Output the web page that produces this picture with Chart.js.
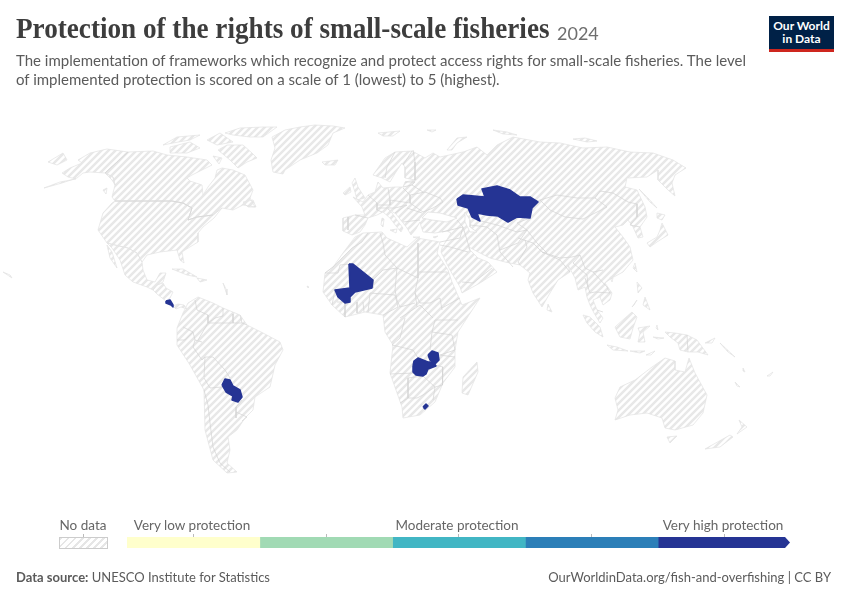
<!DOCTYPE html>
<html>
<head>
<meta charset="utf-8">
<title>Protection of the rights of small-scale fisheries</title>
<script src="https://cdn.jsdelivr.net/npm/chart.js@4/dist/chart.umd.js"></script>
<style>
  html, body { margin: 0; padding: 0; background: #fff; }
  #page { position: relative; width: 850px; height: 600px; overflow: hidden; font-family: Lato, sans-serif; color: #5b5b5b; }
  #page > * { position: absolute; }
  #mapChart { left: 0; top: 0; }
  #title { left: 16px; top: 13px; font: bold 28.5px "Liberation Serif", serif; color: #3d3d3d; white-space: nowrap; transform: scaleX(0.953); transform-origin: left top; }
  #year { left: 557px; top: 22px; font-size: 18px; color: #6e6e6e; }
  #subtitle { left: 16px; top: 51px; font-size: 15px; line-height: 19px; white-space: nowrap; }
  #logo { left: 769px; top: 16px; width: 65px; height: 30px; padding-top: 3px; background: #002147; border-bottom: 3px solid #ce261e; color: #fff; font-weight: bold; font-size: 12px; line-height: 13px; text-align: center; }
  .legendLabel { top: 517px; font-size: 13.5px; transform: translateX(-50%); white-space: nowrap; color: #666; }
  .legendTick { top: 534px; width: 1px; height: 3px; background: #bbb; }
  #noData { left: 59px; top: 537px; width: 47px; height: 10px; border: 1px solid #ccc; background: repeating-linear-gradient(135deg, #e6e6e6 0 2px, #fff 2px 5px); }
  #binChart { left: 127px; top: 537px; clip-path: polygon(0 0, 658px 0, 663px 50%, 658px 100%, 0 100%); }
  #source { left: 16px; top: 569px; font-size: 13px; }
  #credit { right: 19px; top: 569px; font-size: 13px; }
</style>
</head>
<body>
<div id="page">
  <canvas id="mapChart" width="850" height="600"></canvas>
  <div id="title">Protection of the rights of small-scale fisheries</div>
  <div id="year">2024</div>
  <div id="subtitle">The implementation of frameworks which recognize and protect access rights for small-scale fisheries. The level<br>of implemented protection is scored on a scale of 1 (lowest) to 5 (highest).</div>
  <div id="logo">Our World<br>in Data</div>
  <div class="legendLabel" style="left:83px">No data</div>
  <div class="legendLabel" style="left:192px">Very low protection</div>
  <div class="legendLabel" style="left:457px">Moderate protection</div>
  <div class="legendLabel" style="left:723px">Very high protection</div>
  <div class="legendTick" style="left:83px"></div>
  <div class="legendTick" style="left:193px"></div>
  <div class="legendTick" style="left:326px"></div>
  <div class="legendTick" style="left:458px"></div>
  <div class="legendTick" style="left:591px"></div>
  <div class="legendTick" style="left:724px"></div>
  <div id="noData"></div>
  <canvas id="binChart" width="664" height="11"></canvas>
  <div id="source"><b>Data source:</b> UNESCO Institute for Statistics</div>
  <div id="credit">OurWorldinData.org/fish-and-overfishing | CC BY</div>
</div>
<script>
// Legend bins
const binLabels = ['1', '2', '3', '4', '5'];
const binSizes = [1, 1, 1, 1, 1];
const binColors = ['#ffffcc', '#a1dab4', '#41b6c4', '#2c7fb8', '#253494'];

// Countries with a score (all "very high" in this map)
const kazakhstan = [[457,199],[463,195],[485,197],[482,189],[497,186],[510,190],[520,197],[530,197],[538,202],[532,208],[530,218],[517,217],[508,222],[498,216],[487,215],[477,213],[480,221],[472,217],[468,208],[458,205]];
const mali = [[349,264],[353,264],[373,280],[372,288],[355,292],[350,297],[350,302],[345,303],[338,297],[335,290],[350,288]];
const zambia = [[413,366],[414,361],[418,358],[428,362],[433,362],[436,366],[428,369],[426,374],[423,376],[416,375],[413,372]];
const malawiBlob = [[428,355],[432,351],[438,353],[439,360],[435,364],[430,360]];
const eswatini = [[423,407],[426,404],[428,406],[425,409]];
const paraguay = [[222,385],[225,379],[230,380],[233,386],[240,390],[242,397],[238,402],[232,400],[233,396],[226,392]];
const costaRica = [[166,301],[170,300],[173,305],[173,307],[171,305],[166,303]];
const scored = [kazakhstan, mali, zambia, malawiBlob, eswatini, paraguay, costaRica];

// Land with no data
const alaska = [[128,152],[107,149],[90,153],[78,160],[82,163],[70,168],[62,173],[68,177],[76,179],[60,182],[44,188],[62,183],[77,178],[83,173],[90,172],[105,173],[113,177],[115,185],[112,180],[105,173]];
const canada = [[128,152],[153,151],[167,155],[187,157],[207,160],[212,165],[192,175],[187,178],[190,181],[202,185],[203,195],[208,187],[215,178],[217,170],[222,168],[233,170],[245,175],[253,190],[250,198],[255,207],[243,205],[233,210],[222,208],[213,215],[197,217],[188,220],[192,208],[183,203],[172,201],[115,201],[112,197],[115,185],[113,177],[105,173]];
const usa = [[115,201],[172,201],[183,203],[192,208],[188,220],[197,217],[213,215],[222,208],[214,218],[203,227],[198,233],[198,242],[185,250],[182,252],[184,263],[180,260],[177,250],[160,252],[147,255],[142,262],[137,253],[128,248],[115,245],[107,243],[98,230],[103,213],[112,203]];
const mexico = [[107,243],[115,245],[128,248],[137,253],[142,262],[143,270],[147,280],[155,282],[160,273],[166,273],[163,282],[157,285],[153,290],[147,287],[133,282],[125,275],[120,260],[112,248]];
const baja = [[107,245],[112,252],[117,268],[110,258]];
const centralAmerica = [[153,290],[157,285],[163,283],[166,288],[173,292],[170,298],[166,301],[157,294]];
const panama = [[173,306],[178,304],[184,305],[187,309],[181,307],[176,309]];
const greenland = [[272,137],[285,130],[300,127],[315,125],[333,126],[345,128],[333,133],[328,145],[317,153],[300,160],[285,170],[283,174],[273,172],[271,160],[275,148]];
const ellesmere = [[225,133],[240,128],[263,127],[277,127],[263,137],[250,137],[233,135]];
const baffin = [[227,145],[243,145],[252,153],[257,158],[247,162],[238,168],[230,160],[218,150]];
const victoria = [[170,147],[190,142],[200,148],[187,153],[170,153]];
const banks = [[163,145],[177,137],[200,135],[190,140],[173,143]];
const devon = [[207,140],[220,133],[233,142],[217,145]];
const southampton = [[213,156],[222,158],[219,164]];
const newfoundland = [[243,202],[253,200],[256,207],[248,207]];
const vancouver = [[103,190],[107,188],[106,194]];
const stLawrence = [[48,162],[63,153],[67,160],[57,165]];
const cuba = [[172,269],[183,269],[197,277],[187,275]];
const hispaniola = [[197,278],[207,280],[200,282]];
const hawaii = [[3,272],[10,275],[12,278],[9,276]];
const southAmerica = [[177,339],[177,328],[183,313],[188,303],[198,297],[213,303],[223,308],[240,315],[247,325],[263,333],[280,342],[283,350],[275,365],[270,387],[255,397],[253,410],[245,418],[237,430],[228,437],[230,450],[227,463],[237,472],[227,473],[213,460],[205,430],[204,390],[190,365],[177,345]];
const africa = [[355,237],[343,253],[333,267],[325,273],[323,292],[332,305],[345,317],[365,312],[383,315],[385,332],[393,345],[390,373],[402,407],[403,418],[420,415],[435,402],[443,383],[455,367],[455,350],[458,332],[480,298],[462,305],[452,282],[448,270],[437,253],[440,242],[417,238],[407,247],[387,238],[382,232],[363,233]];
const madagascar = [[477,362],[478,372],[468,395],[462,393],[463,377]];
const eurasia = [[343,218],[343,231],[352,235],[360,232],[365,225],[368,218],[377,215],[383,212],[390,218],[396,226],[401,232],[403,228],[397,220],[392,213],[388,209],[396,214],[407,228],[411,235],[416,229],[420,222],[421,226],[423,232],[435,233],[447,231],[451,233],[446,241],[442,248],[441,252],[450,270],[460,287],[462,293],[480,283],[497,272],[488,262],[478,258],[470,250],[467,246],[480,253],[490,258],[505,262],[520,265],[530,273],[528,280],[533,293],[542,307],[550,293],[558,280],[570,272],[568,265],[575,278],[578,290],[585,287],[587,297],[590,305],[594,313],[600,323],[603,318],[597,310],[593,300],[600,297],[603,305],[610,300],[612,293],[605,283],[612,278],[623,272],[633,260],[630,247],[623,237],[615,227],[623,225],[628,220],[633,227],[638,238],[643,237],[640,227],[647,217],[645,207],[637,190],[625,187],[627,178],[647,177],[658,170],[658,180],[668,190],[675,196],[672,183],[675,175],[686,168],[673,160],[653,153],[630,152],[607,147],[583,148],[560,143],[540,142],[513,137],[497,145],[487,155],[477,147],[463,152],[440,157],[433,153],[425,158],[412,151],[395,152],[385,158],[373,175],[382,178],[390,182],[396,172],[402,163],[405,167],[405,178],[415,180],[405,182],[403,187],[395,187],[383,188],[378,182],[375,192],[368,195],[363,202],[353,197],[362,207],[365,215],[355,215]];
const britain = [[355,178],[358,187],[365,198],[357,200],[355,192],[352,183]];
const ireland = [[343,193],[350,187],[351,192],[345,195]];
const iceland = [[322,162],[338,160],[335,165],[325,165]];
const svalbard = [[378,133],[400,131],[393,136],[383,136]];
const novayaZemlya = [[447,150],[457,138],[467,137],[457,143],[452,150]];
const franzJosef = [[427,130],[436,130],[432,132]];
const severnaya = [[493,130],[507,132],[517,135],[503,134]];
const newSiberian = [[573,139],[585,138],[597,141],[587,142]];
const sakhalin = [[639,189],[648,198],[657,208],[650,202]];
const hokkaido = [[657,213],[665,215],[662,220],[657,218]];
const honshu = [[662,223],[668,235],[657,242],[650,247],[647,243],[657,237],[660,230]];
const taiwan = [[635,263],[637,272],[633,268]];
const hainan = [[610,277],[613,278],[612,282]];
const sriLanka = [[548,304],[552,312],[547,310]];
const luzon = [[637,282],[642,288],[638,293]];
const mindanao = [[645,297],[650,310],[643,305]];
const palawan = [[632,307],[637,300],[634,305]];
const sumatra = [[583,315],[590,317],[600,327],[603,337],[595,332],[587,323]];
const java = [[607,345],[617,347],[628,351],[613,350]];
const borneo = [[615,327],[625,318],[632,312],[637,317],[633,328],[630,339],[620,337]];
const sulawesi = [[638,328],[650,326],[643,332],[645,342],[638,342],[640,333]];
const sunda = [[630,351],[645,351],[640,353]];
const timor = [[646,355],[655,351],[651,355]];
const newGuinea = [[665,332],[675,333],[687,335],[697,340],[708,355],[698,352],[688,352],[680,350],[678,343],[670,337]];
const bismarck = [[705,343],[715,338],[712,343]];
const solomon = [[720,343],[735,357],[728,352]];
const caledonia = [[735,382],[740,387],[737,386]];
const vanuatu = [[743,368],[745,372],[743,371]];
const fiji = [[767,376],[773,372],[770,376]];
const halmahera = [[657,325],[658,330],[656,328]];
const seram = [[653,337],[664,338],[658,339]];
const australia = [[615,398],[620,387],[635,380],[652,367],[665,358],[675,361],[675,370],[685,372],[689,358],[695,373],[707,395],[703,413],[693,425],[675,430],[665,428],[662,418],[647,413],[630,415],[615,420],[618,410]];
const tasmania = [[667,437],[677,436],[670,443]];
const nzNorth = [[739,420],[747,427],[737,434],[742,427]];
const nzSouth = [[705,449],[730,435],[733,437],[720,447]];
const sardinia = [[382,218],[384,219],[383,227],[381,225]];
const sicily = [[390,230],[397,229],[396,233]];
const crete = [[413,237],[420,237],[416,238]];
const cyprus = [[433,237],[438,236],[435,238]];
const capeVerde = [[307,286],[309,287],[308,288]];
const antilles = [[223,283],[226,289],[227,295],[225,289]];
const land = [alaska, canada, usa, mexico, baja, centralAmerica, panama, greenland, ellesmere, baffin, victoria, banks, devon, southampton, newfoundland, vancouver, stLawrence, cuba, hispaniola, hawaii, southAmerica, africa, madagascar, eurasia, britain, ireland, iceland, svalbard, novayaZemlya, franzJosef, severnaya, newSiberian, sakhalin, hokkaido, honshu, taiwan, hainan, sriLanka, luzon, mindanao, palawan, sumatra, java, borneo, sulawesi, sunda, timor, newGuinea, bismarck, solomon, caledonia, vanuatu, fiji, halmahera, seram, australia, tasmania, nzNorth, nzSouth, sardinia, sicily, crete, cyprus, capeVerde, antilles];

// Inland seas painted over the land
const blackSea = [[422,218],[428,212],[440,213],[457,218],[447,222],[432,220]];
const caspian = [[465,212],[470,220],[470,227],[477,232],[470,232],[465,222]];
const seas = [blackSea, caspian];

// Country borders, open lines
const borders = [
  [[115,201],[172,201],[183,203],[192,208],[188,220],[197,217],[213,215]],
  [[128,152],[105,173]],
  // South America
  [[195,300],[197,310],[208,315],[208,323],[198,340]],
  [[208,323],[215,318],[223,316],[223,308]],
  [[208,323],[225,323],[242,323],[247,325]],
  [[233,314],[233,323]],
  [[240,315],[242,323]],
  [[183,327],[193,332],[195,340],[202,342]],
  [[177,340],[185,340],[193,332]],
  [[195,340],[193,347],[202,360],[205,357],[204,377]],
  [[205,357],[213,357],[225,370],[230,378]],
  [[204,378],[210,388],[222,387]],
  [[204,390],[208,405],[210,423],[213,447],[220,463],[230,472]],
  [[242,400],[236,407],[236,418]],
  [[236,412],[247,417],[242,421]],
  // Africa
  [[368,233],[362,242],[352,248],[343,257],[333,267],[325,273]],
  [[325,273],[338,273],[340,265],[349,264]],
  [[373,280],[383,270],[397,268]],
  [[380,233],[383,243],[385,255],[397,268]],
  [[418,243],[418,278]],
  [[397,268],[418,278]],
  [[419,272],[447,272]],
  [[397,268],[395,290],[397,300]],
  [[418,278],[415,292],[417,307]],
  [[415,293],[420,303],[430,303],[440,298],[442,310]],
  [[397,300],[400,307],[415,303]],
  [[400,318],[420,305],[433,318]],
  [[405,318],[400,338],[392,345],[413,350],[418,358]],
  [[430,350],[432,332],[435,320]],
  [[442,308],[460,298]],
  [[435,320],[458,320]],
  [[432,332],[452,335],[455,350],[440,355]],
  [[413,365],[415,373],[390,374]],
  [[408,378],[408,398],[400,403]],
  [[408,378],[423,376],[435,387],[423,395],[417,398],[408,398]],
  [[435,365],[443,367],[443,372],[442,385],[435,387],[433,400]],
  [[439,355],[455,357]],
  [[335,290],[332,305]],
  [[337,302],[345,302],[345,317]],
  [[357,302],[357,313]],
  [[363,302],[364,312]],
  [[370,293],[368,312]],
  [[370,293],[395,295],[398,307],[383,315]],
  [[373,280],[373,288]],
  // Europe
  [[355,215],[368,218]],
  [[348,217],[348,230]],
  [[368,195],[377,203],[377,210],[382,212]],
  [[388,188],[390,200],[390,205],[377,205]],
  [[378,208],[395,208],[407,205]],
  [[403,188],[410,195],[410,203],[390,200]],
  [[410,195],[425,192],[440,198],[443,202],[433,208],[423,212],[410,203]],
  [[403,187],[412,185],[423,192]],
  [[405,182],[415,182],[412,185]],
  [[413,150],[415,162],[415,180]],
  [[395,152],[387,167],[385,178]],
  [[412,151],[403,165]],
  [[395,213],[407,205]],
  [[407,208],[422,213]],
  [[403,222],[420,220]],
  // Middle East and Asia
  [[442,232],[463,227],[457,220]],
  [[440,242],[460,238],[463,227]],
  [[463,227],[470,250]],
  [[440,245],[450,247],[468,252]],
  [[462,282],[473,283],[492,268]],
  [[497,235],[500,252],[513,267]],
  [[470,225],[487,227],[497,235]],
  [[477,220],[497,225],[517,232]],
  [[500,250],[518,243],[527,230],[517,232]],
  [[530,218],[517,223],[527,230],[537,243],[547,253]],
  [[518,238],[533,243],[542,252],[560,258],[572,257],[580,255],[585,268],[593,272],[603,270]],
  [[525,240],[527,247],[518,262],[520,265]],
  [[542,252],[560,260],[570,272]],
  [[580,255],[573,263],[587,275],[588,287]],
  [[585,278],[590,293],[595,292],[610,293]],
  [[593,272],[607,287],[610,293]],
  [[597,310],[603,312]],
  [[535,202],[540,200],[557,195],[577,198],[595,198],[600,191],[613,193],[628,202],[637,204],[637,217],[630,225]],
  [[540,200],[550,210],[565,217],[583,219],[597,212],[607,207],[595,198]],
  [[630,225],[640,227]],
  [[687,335],[688,352]]
];

function toPoints(ring) {
  return ring.map(p => ({ x: p[0], y: p[1] }));
}
function closed(ring) {
  return toPoints(ring.concat([ring[0]]));
}

// Hatch fill for the "no data" land
function makeHatch() {
  const tile = document.createElement('canvas');
  tile.width = 7;
  tile.height = 7;
  const c = tile.getContext('2d');
  c.strokeStyle = '#e8e8e8';
  c.lineWidth = 2.5;
  [[-7, 7, 7, -7], [0, 7, 7, 0], [0, 14, 14, 0]].forEach(l => {
    c.beginPath();
    c.moveTo(l[0], l[1]);
    c.lineTo(l[2], l[3]);
    c.stroke();
  });
  return document.getElementById('mapChart').getContext('2d').createPattern(tile, 'repeat');
}

const hatch = makeHatch();
const base = { showLine: true, pointRadius: 0, tension: 0, clip: false };

// Chart.js paints datasets from last to first, so top layers come first here
const mapDatasets = [];
scored.forEach(ring => mapDatasets.push({ ...base, data: closed(ring), fill: 'shape', backgroundColor: '#253494', borderColor: '#253494', borderWidth: 1.5, borderJoinStyle: 'round' }));
borders.forEach(line => mapDatasets.push({ ...base, data: toPoints(line), fill: false, borderColor: '#d4d4d4', borderWidth: 0.7 }));
seas.forEach(ring => mapDatasets.push({ ...base, data: closed(ring), fill: 'shape', backgroundColor: '#fff', borderColor: '#e0e0e0', borderWidth: 0.7 }));
land.forEach(ring => mapDatasets.push({ ...base, data: closed(ring), fill: 'shape', backgroundColor: hatch, borderColor: '#e2e2e2', borderWidth: 0.7 }));

new Chart(document.getElementById('mapChart'), {
  type: 'scatter',
  data: { datasets: mapDatasets },
  options: {
    responsive: false,
    animation: false,
    events: [],
    layout: { padding: 0 },
    plugins: {
      legend: { display: false },
      tooltip: { enabled: false },
      filler: { drawTime: 'beforeDatasetDraw' }
    },
    scales: {
      x: { type: 'linear', display: false, min: 0, max: 850 },
      y: { type: 'linear', display: false, min: 0, max: 600, reverse: true }
    }
  }
});

// Legend bar, one stacked bar per score bin
new Chart(document.getElementById('binChart'), {
  type: 'bar',
  data: {
    labels: ['score'],
    datasets: binSizes.map((size, i) => ({
      label: binLabels[i],
      data: [size],
      backgroundColor: binColors[i],
      borderColor: 'rgba(0,0,0,0.25)',
      borderWidth: { left: 1, right: 0, top: 0, bottom: 0 },
      barPercentage: 1,
      categoryPercentage: 1
    }))
  },
  options: {
    indexAxis: 'y',
    responsive: false,
    animation: false,
    events: [],
    layout: { padding: 0 },
    plugins: { legend: { display: false }, tooltip: { enabled: false } },
    scales: {
      x: { stacked: true, display: false, min: 0, max: 5 },
      y: { stacked: true, display: false }
    }
  }
});
</script>
</body>
</html>
